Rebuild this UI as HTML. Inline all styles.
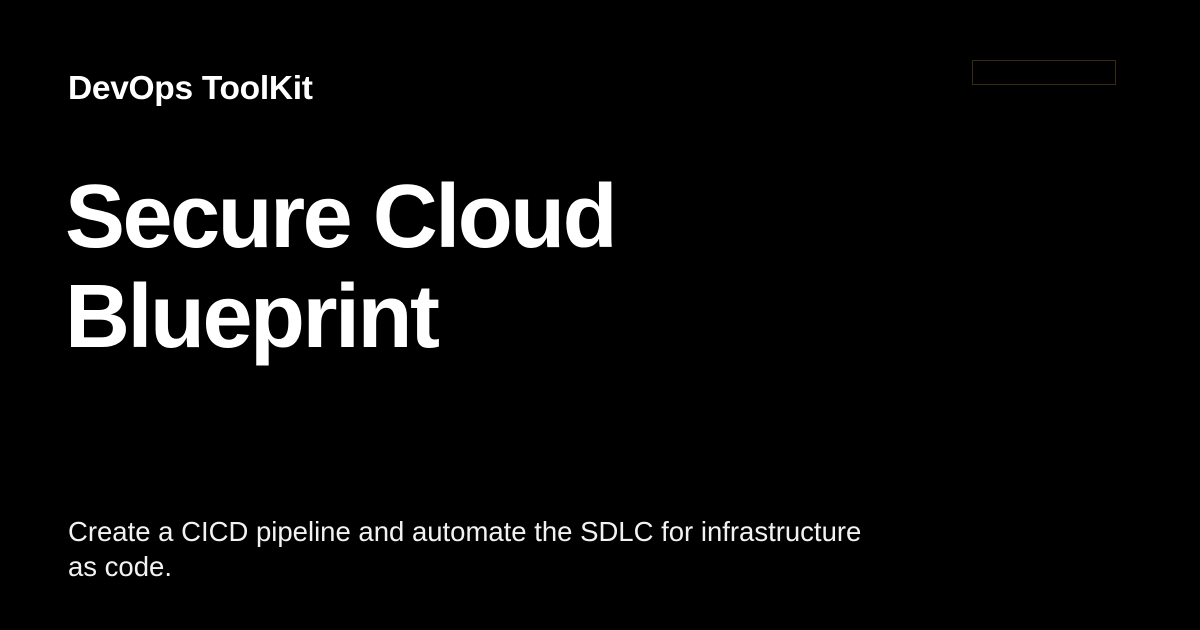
<!DOCTYPE html>
<html><head><style>
html,body{margin:0;padding:0;background:#000;}
body{width:1200px;height:630px;position:relative;overflow:hidden;font-family:"Liberation Sans",sans-serif;color:#fff;}
.brand{position:absolute;left:68px;top:70px;font-size:33.5px;font-weight:bold;letter-spacing:-0.3px;}
.title{position:absolute;left:65px;top:167px;font-size:90px;font-weight:bold;line-height:100px;letter-spacing:-2.5px;}
.sub{position:absolute;left:68px;top:514px;width:820px;font-size:27.5px;line-height:35px;color:#f2f2f2;}
.box{position:absolute;left:972px;top:60px;width:142px;height:23px;border:1px solid #3a2a10;}
</style></head><body>
<div class="brand">DevOps ToolKit</div>
<div class="title">Secure Cloud<br>Blueprint</div>
<div class="sub">Create a CICD pipeline and automate the SDLC for infrastructure as code.</div>
<div class="box"></div>
</body></html>
